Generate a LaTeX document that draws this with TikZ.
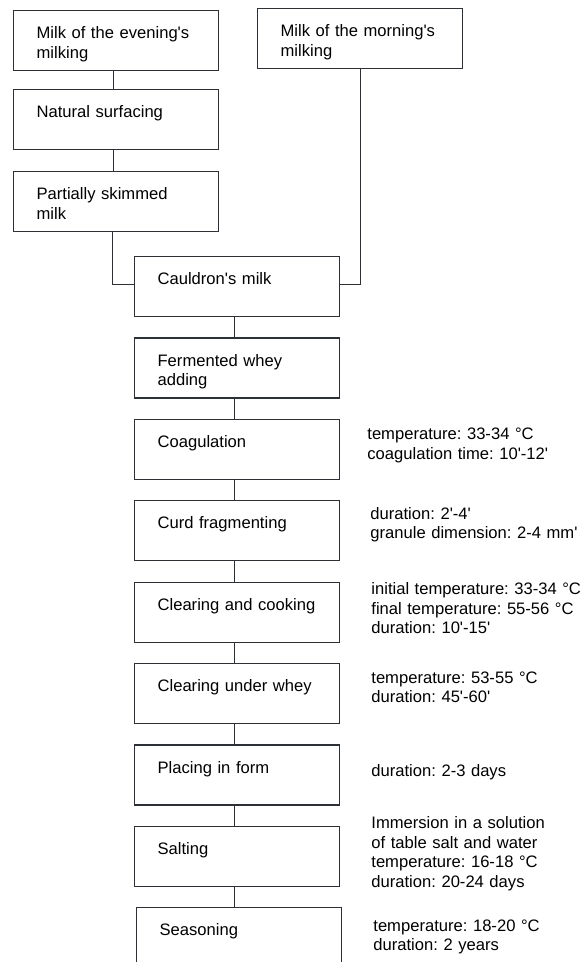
\documentclass[tikz,border=0pt]{standalone}
\usepackage{fontspec}
\setmainfont{Liberation Sans}
\usepackage{tikz}
\usetikzlibrary{positioning,calc}
\definecolor{linegray}{RGB}{45,48,52}
\newcommand{\ap}{\textquotesingle}
\frenchspacing

\begin{document}
\begin{tikzpicture}[
 x=1pt,y=1pt,
 node distance=20.2pt,
 every node/.style={font=\fontsize{16.6pt}{19.5pt}\selectfont},
 stepbox/.style={draw=linegray,line width=1.2pt,inner xsep=23pt,inner ysep=0pt,text width=159pt,align=left,text height=28pt,text depth=32pt},
 note/.style={anchor=base west,inner sep=0pt,text width=220pt,align=left},
 link/.style={draw=linegray,line width=1.2pt}
]
\useasboundingbox (0,0) rectangle (582,-962);
\clip (0,0) rectangle (582,-962);
% left branch: evening milk
\node[stepbox,anchor=north west] (even) at (13,-10) {Milk of the evening\ap s\\milking};
\node[stepbox,below=18pt of even] (surf) {Natural surfacing};
\node[stepbox,below=20.5pt of surf] (skim) {Partially skimmed\\milk};
% right branch: morning milk
\node[stepbox,anchor=north west] (morn) at (257,-8) {Milk of the morning\ap s\\milking};
% main line
\node[stepbox,anchor=north west] (cauld) at (134,-256) {Cauldron\ap s milk};
\node[stepbox,below=of cauld] (whey) {Fermented whey\\adding};
\node[stepbox,below=of whey] (coag) {Coagulation};
\node[stepbox,below=of coag] (curd) {Curd fragmenting};
\node[stepbox,below=of curd] (cook) {Clearing and cooking};
\node[stepbox,below=of cook] (under) {Clearing under whey};
\node[stepbox,below=of under] (form) {Placing in form};
\node[stepbox,below=of form] (salt) {Salting};
\node[stepbox,below=of salt,xshift=2pt] (seas) {Seasoning};
% process conditions
\node[note] (coagnote) at ([xshift=27pt,yshift=-21pt]coag.north east) {temperature: 33-34 °C\\coagulation time: 10\ap-12\ap};
\node[note] (curdnote) at ([xshift=30pt,yshift=-19pt]curd.north east) {duration: 2\ap-4\ap\\granule dimension: 2-4 mm\ap};
\node[note] (cooknote) at ([xshift=31pt,yshift=-13pt]cook.north east) {initial temperature: 33-34 °C\\final temperature: 55-56 °C\\duration: 10\ap-15\ap};
\node[note] (undernote) at ([xshift=31pt,yshift=-20pt]under.north east) {temperature: 53-55 °C\\duration: 45\ap-60\ap};
\node[note] (formnote) at ([xshift=31pt,yshift=-32pt]form.north east) {duration: 2-3 days};
\node[note] (saltnote) at ([xshift=31pt,yshift=-3pt]salt.north east) {Immersion in a solution\\of table salt and water\\temperature: 16-18 °C\\duration: 20-24 days};
\node[note] (seasnote) at ([xshift=31pt,yshift=-24pt]seas.north east) {temperature: 18-20 °C\\duration: 2 years};
% connectors
\foreach \a/\b in {even/surf,surf/skim,cauld/whey,whey/coag,coag/curd,curd/cook,cook/under,under/form,form/salt,salt/seas}
 \draw[link] ([xshift=-3pt]\a.south) -- ([xshift=-3pt]\a.south |- \b.north);
\draw[link] ([xshift=-4pt]skim.south) |- ([yshift=2pt]cauld.west);
\draw[link] (morn.south) |- ([yshift=2pt]cauld.east);
\end{tikzpicture}
\end{document}
